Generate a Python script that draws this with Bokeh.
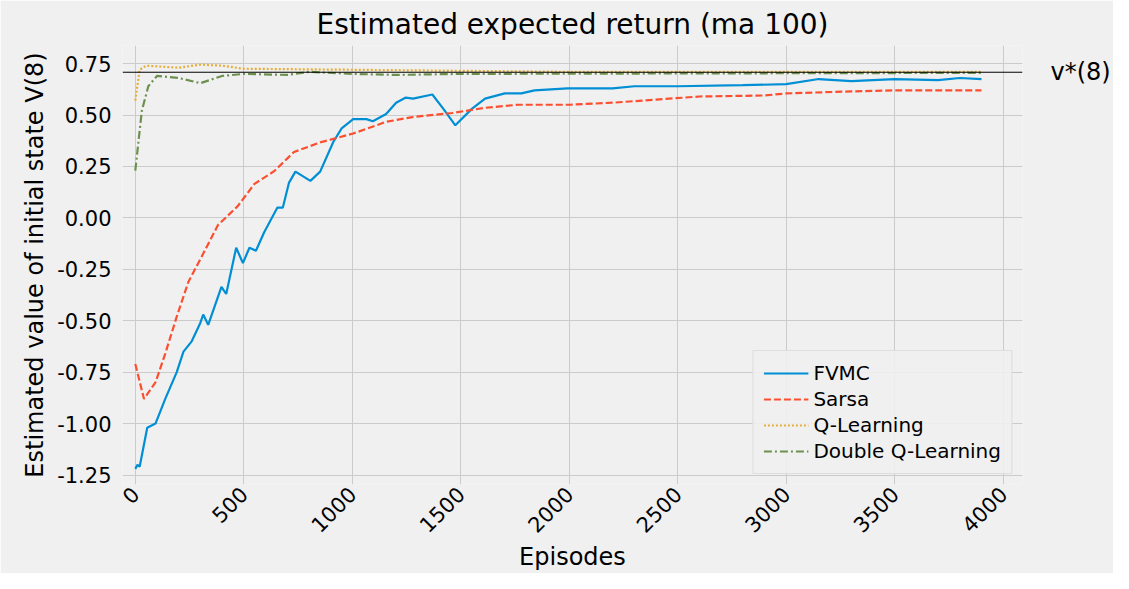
from bokeh.plotting import figure
from bokeh.models import Span, Range1d, Legend, LegendItem, LinearAxis
from bokeh.embed import file_html
from bokeh.resources import INLINE
import math

# Data
fvmc_ep = [0, 10, 20, 55, 93, 138, 191, 222, 260, 298, 313, 336, 397, 419, 465, 496, 526, 556, 594, 655, 680,
           708, 738, 807, 852, 913, 951, 1004, 1065, 1095, 1156, 1202, 1247, 1280, 1369, 1420, 1475, 1551, 1612,
           1703, 1779, 1840, 1992, 2200, 2300, 2500, 2800, 3000, 3150, 3300, 3500, 3700, 3800, 3900]
fvmc_v = [-1.22, -1.20, -1.21, -1.02, -1.00, -0.88, -0.75, -0.65, -0.60, -0.515, -0.47, -0.52, -0.335, -0.37,
          -0.145, -0.22, -0.145, -0.16, -0.07, 0.05, 0.05, 0.17, 0.225, 0.18, 0.225, 0.37, 0.435, 0.48, 0.48,
          0.47, 0.505, 0.56, 0.585, 0.58, 0.60, 0.53, 0.45, 0.53, 0.58, 0.605, 0.605, 0.62, 0.63, 0.63, 0.64,
          0.64, 0.645, 0.65, 0.675, 0.665, 0.675, 0.67, 0.68, 0.675]

sarsa_ep = [0, 40, 93, 138, 191, 245, 305, 381, 472, 549, 640, 731, 852, 1004, 1156, 1278, 1460, 1612, 1764,
            2000, 2200, 2400, 2600, 2900, 3000, 3300, 3500, 3900]
sarsa_v = [-0.71, -0.88, -0.80, -0.66, -0.48, -0.31, -0.19, -0.035, 0.057, 0.165, 0.227, 0.32, 0.367, 0.41,
           0.467, 0.49, 0.51, 0.535, 0.55, 0.55, 0.56, 0.575, 0.59, 0.595, 0.605, 0.615, 0.62, 0.62]

ql_ep = [0, 20, 50, 200, 300, 400, 500, 1000, 1500, 2000, 3900]
ql_v = [0.57, 0.72, 0.74, 0.73, 0.745, 0.74, 0.725, 0.72, 0.715, 0.71, 0.71]

dql_ep = [0, 30, 60, 100, 200, 300, 400, 500, 700, 800, 1000, 1200, 1500, 3900]
dql_v = [0.23, 0.52, 0.64, 0.69, 0.68, 0.655, 0.69, 0.70, 0.695, 0.71, 0.70, 0.695, 0.70, 0.705]

v_star = 0.708
x_ticks = [0, 500, 1000, 1500, 2000, 2500, 3000, 3500, 4000]
y_ticks = [-1.25, -1.0, -0.75, -0.5, -0.25, 0.0, 0.25, 0.5, 0.75]

bg = "#f0f0f0"
p = figure(width=1113, height=573, output_backend="svg", toolbar_location=None,
           title="Estimated expected return (ma 100)",
           x_axis_label="Episodes", y_axis_label="Estimated value of initial state V(8)",
           x_range=Range1d(-59, 4089), y_range=Range1d(-1.296, 0.838),
           background_fill_color=bg, border_fill_color=bg, min_border_left=122)
p.outline_line_color = None
p.title.text_font_size = "28px"
p.title.text_font_style = "normal"
p.title.align = "center"
p.title.text_font = "DejaVu Sans"
p.title.text_color = "black"

# right axis used only to write the v*(8) label next to the reference line
vaxis = LinearAxis(ticker=[v_star], major_label_overrides={v_star: "v*(8)"})
p.add_layout(vaxis, "right")

for ax in (p.xaxis[0], p.yaxis[0], vaxis):
    ax.axis_line_color = None
    ax.major_tick_line_color = None
    ax.minor_tick_line_color = None
    ax.major_label_text_font_size = "21px"
    ax.major_label_text_font = "DejaVu Sans"
    ax.axis_label_text_font_size = "24px"
    ax.axis_label_text_font = "DejaVu Sans"
    ax.axis_label_text_font_style = "normal"
    ax.axis_label_text_color = "black"
    ax.major_label_text_color = "black"
vaxis.major_label_text_font_size = "24px"
vaxis.major_label_standoff = 22
p.xaxis[0].ticker = x_ticks
p.yaxis[0].ticker = y_ticks
p.yaxis[0].major_label_overrides = {t: f"{t:.2f}" for t in y_ticks}
p.xaxis[0].major_label_orientation = math.pi / 4
p.xaxis[0].major_label_standoff = 0
p.xaxis[0].axis_label_standoff = 0
p.grid.grid_line_color = "#cbcbcb"
p.grid.grid_line_width = 1

p.add_layout(Span(location=v_star, dimension="width", line_color="black", line_width=1))

r1 = p.line(fvmc_ep, fvmc_v, line_color="#008fd5", line_width=2.2)
r2 = p.line(sarsa_ep, sarsa_v, line_color="#fc4f30", line_width=2.2, line_dash="7 3")
r3 = p.line(ql_ep, ql_v, line_color="#e5ae38", line_width=2.2, line_dash="2 2")
r4 = p.line(dql_ep, dql_v, line_color="#6d904f", line_width=2.2, line_dash="8 3 2 3")

legend = Legend(items=[LegendItem(label="FVMC", renderers=[r1]),
                       LegendItem(label="Sarsa", renderers=[r2]),
                       LegendItem(label="Q-Learning", renderers=[r3]),
                       LegendItem(label="Double Q-Learning", renderers=[r4])],
                location="bottom_right", label_text_font_size="20px", label_text_font="DejaVu Sans",
                label_text_color="black",
                background_fill_color=bg, background_fill_alpha=0.9, border_line_color="#cccccc",
                glyph_width=45, spacing=2, padding=10, margin=10)
p.add_layout(legend)

open("out.html", "w").write(file_html(p, INLINE))
